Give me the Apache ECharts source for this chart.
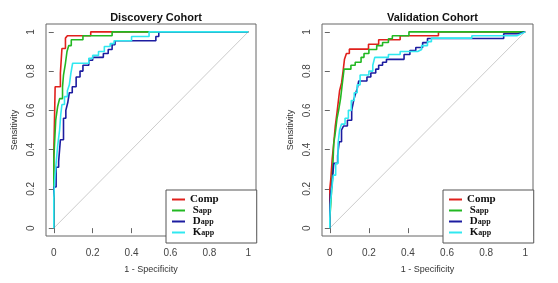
<!DOCTYPE html>
<html>
<head>
<meta charset="utf-8">
</head>
<body style="margin:0">
<div id="container" style="width:558px;height:283px"></div>
<script src="https://cdn.jsdelivr.net/npm/echarts@6/dist/echarts.min.js"></script>
<script>
// ROC curves, points as [1 - specificity, sensitivity]
var names = ['Comp', 'Sapp', 'Dapp', 'Kapp'];
var colors = ['#e0201c', '#22b822', '#1c1ca0', '#30e8f0'];
var ticks = [0, 0.2, 0.4, 0.6, 0.8, 1];
var titles = ['Discovery Cohort', 'Validation Cohort'];
var diagonal = [[0, 0], [1, 1]];

var discComp = [[0,0],[0,0.37],[0.007,0.37],[0.007,0.72],[0.034,0.72],[0.034,0.79],[0.042,0.79],[0.042,0.915],[0.06,0.915],[0.06,0.968],[0.07,0.968],[0.07,0.98],[0.19,0.98],[0.19,1],[1,1]];
var discSapp = [[0,0],[0,0.35],[0.005,0.35],[0.005,0.45],[0.01,0.45],[0.01,0.55],[0.02,0.55],[0.02,0.62],[0.03,0.62],[0.03,0.66],[0.045,0.66],[0.045,0.72],[0.05,0.72],[0.05,0.78],[0.06,0.78],[0.06,0.84],[0.068,0.84],[0.068,0.9],[0.077,0.9],[0.077,0.93],[0.09,0.93],[0.09,0.96],[0.15,0.96],[0.15,0.98],[0.3,0.98],[0.3,1],[1,1]];
var discDapp = [[0,0],[0,0.21],[0.012,0.21],[0.012,0.31],[0.025,0.31],[0.025,0.34],[0.034,0.34],[0.034,0.45],[0.05,0.45],[0.05,0.56],[0.062,0.56],[0.062,0.6],[0.072,0.6],[0.072,0.64],[0.08,0.64],[0.08,0.69],[0.095,0.69],[0.095,0.72],[0.115,0.72],[0.115,0.77],[0.135,0.77],[0.135,0.8],[0.15,0.8],[0.15,0.83],[0.18,0.83],[0.18,0.855],[0.2,0.855],[0.2,0.87],[0.255,0.87],[0.255,0.89],[0.28,0.89],[0.28,0.91],[0.3,0.91],[0.3,0.935],[0.315,0.935],[0.315,0.955],[0.525,0.955],[0.525,0.976],[0.54,0.976],[0.54,1],[1,1]];
var discKapp = [[0,0],[0,0.15],[0.005,0.15],[0.005,0.25],[0.012,0.25],[0.012,0.33],[0.02,0.33],[0.02,0.42],[0.03,0.42],[0.03,0.5],[0.036,0.5],[0.036,0.58],[0.042,0.58],[0.042,0.63],[0.055,0.63],[0.055,0.67],[0.07,0.67],[0.07,0.7],[0.08,0.7],[0.08,0.73],[0.088,0.73],[0.088,0.79],[0.097,0.79],[0.097,0.84],[0.18,0.84],[0.18,0.865],[0.2,0.865],[0.2,0.88],[0.23,0.88],[0.23,0.9],[0.26,0.9],[0.26,0.925],[0.29,0.925],[0.29,0.94],[0.31,0.94],[0.31,0.955],[0.4,0.955],[0.4,0.976],[0.49,0.976],[0.49,1],[1,1]];

var valComp = [[0,0],[0,0.2],[0.005,0.2],[0.005,0.25],[0.012,0.25],[0.012,0.35],[0.02,0.35],[0.02,0.43],[0.028,0.43],[0.028,0.52],[0.037,0.52],[0.037,0.59],[0.044,0.59],[0.044,0.65],[0.05,0.65],[0.05,0.7],[0.06,0.7],[0.06,0.74],[0.068,0.74],[0.068,0.8],[0.075,0.8],[0.075,0.86],[0.085,0.86],[0.085,0.89],[0.1,0.89],[0.1,0.912],[0.198,0.912],[0.198,0.937],[0.25,0.937],[0.25,0.96],[0.36,0.96],[0.36,0.98],[0.556,0.98],[0.556,1],[1,1]];
var valSapp = [[0,0],[0,0.05],[0.004,0.05],[0.004,0.11],[0.01,0.11],[0.01,0.21],[0.015,0.21],[0.015,0.3],[0.02,0.3],[0.02,0.43],[0.03,0.43],[0.03,0.5],[0.037,0.5],[0.037,0.56],[0.045,0.56],[0.045,0.6],[0.055,0.6],[0.055,0.66],[0.062,0.66],[0.062,0.72],[0.068,0.72],[0.068,0.77],[0.073,0.77],[0.073,0.81],[0.108,0.81],[0.108,0.83],[0.13,0.83],[0.13,0.845],[0.16,0.845],[0.16,0.87],[0.175,0.87],[0.175,0.89],[0.2,0.89],[0.2,0.91],[0.24,0.91],[0.24,0.93],[0.27,0.93],[0.27,0.946],[0.3,0.946],[0.3,0.965],[0.32,0.965],[0.32,0.98],[0.405,0.98],[0.405,1],[1,1]];
var valDapp = [[0,0],[0,0.1],[0.003,0.1],[0.003,0.17],[0.012,0.17],[0.012,0.23],[0.02,0.23],[0.02,0.33],[0.04,0.33],[0.04,0.37],[0.048,0.37],[0.048,0.44],[0.06,0.44],[0.06,0.5],[0.07,0.5],[0.07,0.52],[0.09,0.52],[0.09,0.55],[0.112,0.55],[0.112,0.6],[0.122,0.6],[0.122,0.65],[0.13,0.65],[0.13,0.68],[0.14,0.68],[0.14,0.71],[0.148,0.71],[0.148,0.75],[0.19,0.75],[0.19,0.77],[0.21,0.77],[0.21,0.79],[0.235,0.79],[0.235,0.81],[0.25,0.81],[0.25,0.83],[0.27,0.83],[0.27,0.845],[0.29,0.845],[0.29,0.86],[0.38,0.86],[0.38,0.885],[0.41,0.885],[0.41,0.905],[0.44,0.905],[0.44,0.92],[0.475,0.92],[0.475,0.945],[0.5,0.945],[0.5,0.966],[0.89,0.966],[0.89,0.99],[0.965,0.99],[0.965,1],[1,1]];
var valKapp = [[0,0],[0,0.05],[0.003,0.05],[0.003,0.12],[0.01,0.12],[0.01,0.2],[0.018,0.2],[0.018,0.27],[0.03,0.27],[0.03,0.33],[0.042,0.33],[0.042,0.43],[0.05,0.43],[0.05,0.5],[0.06,0.5],[0.06,0.53],[0.078,0.53],[0.078,0.56],[0.095,0.56],[0.095,0.6],[0.11,0.6],[0.11,0.65],[0.125,0.65],[0.125,0.69],[0.14,0.69],[0.14,0.73],[0.155,0.73],[0.155,0.78],[0.2,0.78],[0.2,0.8],[0.22,0.8],[0.22,0.83],[0.23,0.83],[0.23,0.87],[0.3,0.87],[0.3,0.885],[0.36,0.885],[0.36,0.9],[0.45,0.9],[0.45,0.91],[0.47,0.91],[0.47,0.93],[0.5,0.93],[0.5,0.95],[0.52,0.95],[0.52,0.968],[0.727,0.968],[0.727,0.98],[0.957,0.98],[1,1]];

var panels = [
  [discComp, discSapp, discDapp, discKapp],
  [valComp, valSapp, valDapp, valKapp]
];

var chart = echarts.init(document.getElementById('container'), null, { renderer: 'canvas' });

var grids = [
  { left: 46, top: 24, width: 210, height: 212 },
  { left: 322, top: 24, width: 211, height: 212 }
];

function axis(i, isX) {
  return {
    type: 'value',
    gridIndex: i,
    min: -0.04,
    max: 1.04,
    name: isX ? '1 - Specificity' : 'Sensitivity',
    nameLocation: 'middle',
    nameGap: isX ? 29 : 27,
    nameTextStyle: { fontFamily: 'Liberation Sans', fontSize: 9, color: '#333' },
    axisLine: { show: false },
    splitLine: { show: false },
    axisTick: { show: true, length: 5, customValues: ticks, lineStyle: { color: '#666' } },
    axisLabel: {
      customValues: ticks,
      rotate: isX ? 0 : 90,
      margin: isX ? 12 : 10,
      fontFamily: 'Liberation Sans',
      fontSize: 10,
      color: '#444'
    }
  };
}

var series = [];
panels.forEach(function (curves, p) {
  series.push({
    type: 'line',
    xAxisIndex: p,
    yAxisIndex: p,
    data: diagonal,
    showSymbol: false,
    silent: true,
    lineStyle: { color: '#cccccc', width: 1 },
    z: 1
  });
  curves.forEach(function (c, k) {
    series.push({
      name: names[k],
      type: 'line',
      xAxisIndex: p,
      yAxisIndex: p,
      data: c,
      showSymbol: false,
      color: colors[k],
      lineStyle: { width: 1.6 },
      z: 2 + k
    });
  });
});

function legend(left) {
  return {
    data: names,
    orient: 'vertical',
    left: left,
    top: 190,
    icon: 'rect',
    itemWidth: 13,
    itemHeight: 2,
    itemGap: 0,
    padding: [4, 38, 5, 6],
    backgroundColor: '#fff',
    borderColor: '#555',
    borderWidth: 1,
    selectedMode: false,
    formatter: function (n) {
      return n === 'Comp' ? '{b|Comp}' : '{b| ' + n[0] + '}{s|app}';
    },
    textStyle: {
      rich: {
        b: { fontFamily: 'Liberation Serif', fontWeight: 'bold', fontSize: 11, color: '#111', lineHeight: 9 },
        s: { fontFamily: 'Liberation Serif', fontWeight: 'bold', fontSize: 8, color: '#111', lineHeight: 9, verticalAlign: 'bottom' }
      }
    }
  };
}

var option = {
  animation: false,
  backgroundColor: '#fff',
  title: titles.map(function (t, i) {
    var g = grids[i];
    return {
      text: t,
      left: g.left + g.width / 2,
      textAlign: 'center',
      top: 7,
      textStyle: { fontFamily: 'Liberation Sans', fontSize: 11, fontWeight: 'bold', color: '#111' }
    };
  }),
  grid: grids.map(function (g) {
    return Object.assign({ show: true, borderColor: '#666', borderWidth: 1, backgroundColor: '#fff' }, g);
  }),
  xAxis: [axis(0, true), axis(1, true)],
  yAxis: [axis(0, false), axis(1, false)],
  legend: [legend(166), legend(443)],
  series: series
};

chart.setOption(option);
</script>
</body>
</html>
